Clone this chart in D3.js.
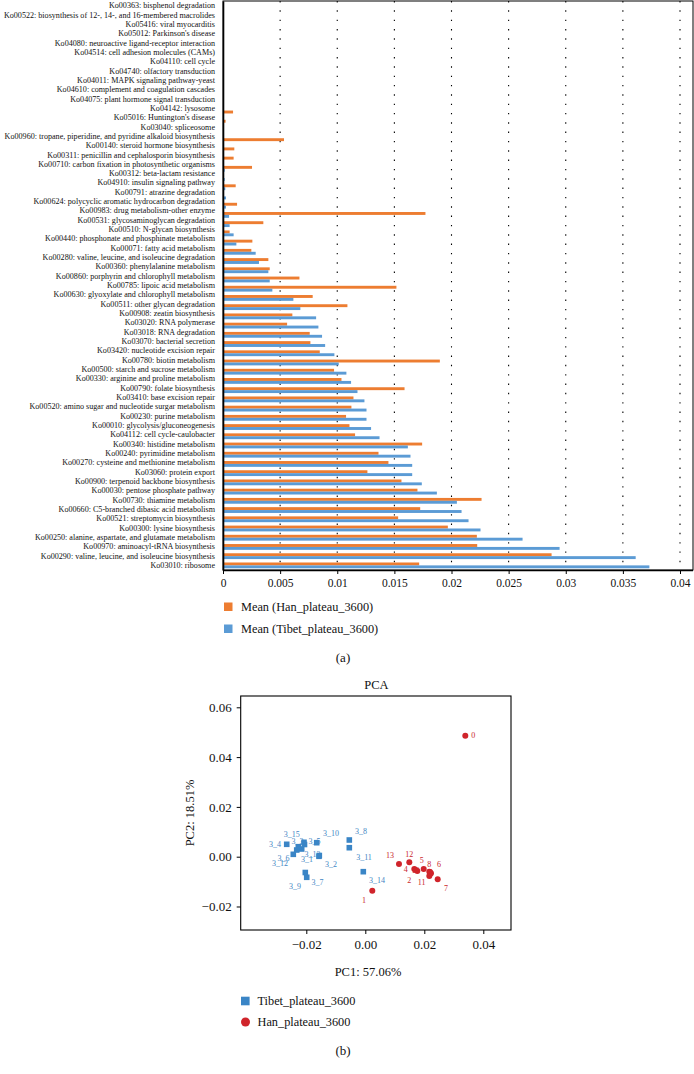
<!DOCTYPE html>
<html>
<head>
<meta charset="utf-8">
<script src="https://cdn.jsdelivr.net/npm/d3@7"></script>
<style>
  html, body { margin: 0; padding: 0; background: #fff; }
  svg { display: block; }
  text { font-family: "Liberation Serif", "Times New Roman", serif; }
</style>
</head>
<body>
<svg id="chart" width="694" height="1074"></svg>
<script>
// ---------------- Data: panel (a) ----------------
const categories = [
  "Ko00363: bisphenol degradation",
  "Ko00522: biosynthesis of 12-, 14-, and 16-membered macrolides",
  "Ko05416: viral myocarditis",
  "Ko05012: Parkinson's disease",
  "Ko04080: neuroactive ligand-receptor interaction",
  "Ko04514: cell adhesion molecules (CAMs)",
  "Ko04110: cell cycle",
  "Ko04740: olfactory transduction",
  "Ko04011: MAPK signaling pathway-yeast",
  "Ko04610: complement and coagulation cascades",
  "Ko04075: plant hormone signal transduction",
  "Ko04142: lysosome",
  "Ko05016: Huntington's disease",
  "Ko03040: spliceosome",
  "Ko00960: tropane, piperidine, and pyridine alkaloid biosynthesis",
  "Ko00140: steroid hormone biosynthesis",
  "Ko00311: penicillin and cephalosporin biosynthesis",
  "Ko00710: carbon fixation in photosynthetic organisms",
  "Ko00312: beta-lactam resistance",
  "Ko04910: insulin signaling pathway",
  "Ko00791: atrazine degradation",
  "Ko00624: polycyclic aromatic hydrocarbon degradation",
  "Ko00983: drug metabolism-other enzyme",
  "Ko00531: glycosaminoglycan degradation",
  "Ko00510: N-glycan biosynthesis",
  "Ko00440: phosphonate and phosphinate metabolism",
  "Ko00071: fatty acid metabolism",
  "Ko00280: valine, leucine, and isoleucine degradation",
  "Ko00360: phenylalanine metabolism",
  "Ko00860: porphyrin and chlorophyll metabolism",
  "Ko00785: lipoic acid metabolism",
  "Ko00630: glyoxylate and chlorophyll metabolism",
  "Ko00511: other glycan degradation",
  "Ko00908: zeatin biosynthesis",
  "Ko03020: RNA polymerase",
  "Ko03018: RNA degradation",
  "Ko03070: bacterial secretion",
  "Ko03420: nucleotide excision repair",
  "Ko00780: biotin metabolism",
  "Ko00500: starch and sucrose metabolism",
  "Ko00330: arginine and proline metabolism",
  "Ko00790: folate biosynthesis",
  "Ko03410: base excision repair",
  "Ko00520: amino sugar and nucleotide surgar metabolism",
  "Ko00230: purine metabolism",
  "Ko00010: glycolysis/gluconeogenesis",
  "Ko04112: cell cycle-caulobacter",
  "Ko00340: histidine metabolism",
  "Ko00240: pyrimidine metabolism",
  "Ko00270: cysteine and methionine metabolism",
  "Ko03060: protein export",
  "Ko00900: terpenoid backbone biosynthesis",
  "Ko00030: pentose phosphate pathway",
  "Ko00730: thiamine metabolism",
  "Ko00660: C5-branched dibasic acid metabolism",
  "Ko00521: streptomycin biosynthesis",
  "Ko00300: lysine biosynthesis",
  "Ko00250: alanine, aspartate, and glutamate metabolism",
  "Ko00970: aminoacyl-tRNA biosynthesis",
  "Ko00290: valine, leucine, and isoleucine biosynthesis",
  "Ko03010: ribosome"
];

const hanValues = [
  0, 0, 0, 0, 0, 0, 0, 0, 0, 0,
  0, 0.00088, 0.00023, 0, 0.00534, 0.00099, 0.00093, 0.00254, 0, 0.00111,
  0, 0.00123, 0.01772, 0.00353, 0.00058, 0.00257, 0.00248, 0.00397, 0.00409, 0.00669,
  0.01518, 0.00785, 0.01089, 0.00607, 0.00561, 0.00759, 0.00765, 0.00847, 0.01898, 0.00972,
  0.01037, 0.01589, 0.01142, 0.01124, 0.01077, 0.01107, 0.01156, 0.01743, 0.01361, 0.01448,
  0.01264, 0.01562, 0.01702, 0.02263, 0.01726, 0.01533, 0.01968, 0.02222, 0.02225, 0.02876,
  0.01717
];

const tibetValues = [
  0, 0, 0, 0, 0, 0, 0, 0, 0, 0,
  0, 0, 0, 0, 0, 0, 0, 0.00015, 0.00015, 0.0002,
  0.00026, 0.00026, 0.00053, 0.00058, 0.00093, 0.00117, 0.00286, 0.00315, 0.00397, 0.00409,
  0.00432, 0.00616, 0.00677, 0.00815, 0.00835, 0.00867, 0.00894, 0.00975, 0.01013, 0.0108,
  0.01121, 0.01177, 0.01238, 0.01256, 0.01256, 0.01296, 0.0137, 0.01618, 0.01641, 0.01656,
  0.01656, 0.0174, 0.01872, 0.02047, 0.02088, 0.02149, 0.02254, 0.02622, 0.02946, 0.03612,
  0.03732
];

const barSeries = ["Mean (Han_plateau_3600)", "Mean (Tibet_plateau_3600)"];
const xTicks = [0, 0.005, 0.01, 0.015, 0.02, 0.025, 0.03, 0.035, 0.04];
const xTickLabels = ["0", "0.005", "0.01", "0.015", "0.02", "0.025", "0.03", "0.035", "0.04"];

// ---------------- Data: panel (b) ----------------
const tibetNames = ["3_1","3_2","3_3","3_4","3_5","3_6","3_7","3_8","3_9","3_10","3_11","3_12","3_13","3_14","3_15"];
const tibetPC1 = [-0.02156, -0.01559, -0.02078, -0.02664, -0.02061, -0.02441, -0.01986, -0.00542, -0.02034, -0.01647, -0.00542, -0.02325, -0.0157, -0.00068, -0.02271];
const tibetPC2 = [0.00309, 0.00048, 0.00578, 0.00498, 0.0049, 0.00096, -0.00827, 0.00671, -0.00635, 0.00562, 0.00361, 0.00269, 0.00016, -0.00602, 0.00402];

const hanNames = ["0","1","2","3","4","5","6","7","8","9","10","11","12","13"];
const hanPC1 = [0.0339, 0.00237, 0.01763, 0.02193, 0.01661, 0.0198, 0.02227, 0.02454, 0.0217, 0.02193, 0.01702, 0.0217, 0.01492, 0.01142];
const hanPC2 = [0.0486, -0.01365, -0.00574, -0.00614, -0.00494, -0.00494, -0.00667, -0.00908, -0.00602, -0.00695, -0.00534, -0.00775, -0.00225, -0.00293];

const pcaGroups = ["Tibet_plateau_3600", "Han_plateau_3600"];
const pcaXTicks = [-0.02, 0, 0.02, 0.04];
const pcaYTicks = [-0.02, 0, 0.02, 0.04, 0.06];
const pcaXTickLabels = ["\u22120.02", "0.00", "0.02", "0.04"];
const pcaYTickLabels = ["\u22120.02", "0.00", "0.02", "0.04", "0.06"];

// ---------------- Layout (label nudges in px) ----------------
const tibetLabelNudge = [[5.3,10],[11.7,8.8],[-6.5,-1.6],[-11.7,-0.3],[10,-2.8],[-9.8,4],[10.8,4.7],[11.7,-9],[-10.3,13.2],[14.3,-9.4],[14.7,9],[-16.7,13.3],[-6.5,-1.6],[13.7,9],[-6.6,-12.7]];
const hanLabelNudge = [[8,0],[-8.3,9.3],[-8,9],[0,0],[-8.6,0.3],[-2,-9],[8,-9.3],[8.3,9],[0,-7],[0,0],[0,0],[-7.6,6.3],[0,-8.3],[-9,-9]];

const ORANGE = "#ED7D31", BLUE = "#5B9BD5";
const SQ_BLUE = "#3A85C6", DOT_RED = "#D0242B";

const svg = d3.select("#chart");

// ================= Panel (a) =================
const A = { left: 223, right: 693, top: 1, bottom: 570 };
const x = d3.scaleLinear().domain([0, 0.04]).range([A.left, 680]);
const yLabel = d3.scaleBand().domain(categories).range([A.top, A.bottom]);
const yBar = d3.scaleBand().domain(categories).range([7.4, A.bottom]);
const barH = 2.9;

const gA = svg.append("g");

// dotted gridlines
gA.selectAll("line.grid").data(xTicks.slice(1)).enter().append("line")
  .attr("x1", d => x(d)).attr("x2", d => x(d))
  .attr("y1", A.top).attr("y2", A.bottom)
  .attr("stroke", "#000").attr("stroke-width", 1.1)
  .attr("stroke-dasharray", "1.4,7.93");

const rows = categories.map((c, i) => ({ c, han: hanValues[i], tibet: tibetValues[i] }));

// Han (orange, upper)
gA.selectAll("rect.han").data(rows).enter().append("rect")
  .attr("x", x(0))
  .attr("y", d => yBar(d.c) + yBar.bandwidth() / 2 - barH)
  .attr("width", d => x(d.han) - x(0))
  .attr("height", barH)
  .attr("fill", ORANGE);

// Tibet (blue, lower)
gA.selectAll("rect.tib").data(rows).enter().append("rect")
  .attr("x", x(0))
  .attr("y", d => yBar(d.c) + yBar.bandwidth() / 2)
  .attr("width", d => x(d.tibet) - x(0))
  .attr("height", barH)
  .attr("fill", BLUE);

// frame
gA.append("rect")
  .attr("x", A.left).attr("y", A.top)
  .attr("width", A.right - A.left).attr("height", A.bottom - A.top)
  .attr("fill", "none").attr("stroke", "#000").attr("stroke-width", 1);

// category axis
const yAxis = gA.append("g").attr("transform", `translate(${A.left},0)`)
  .call(d3.axisLeft(yLabel).tickSize(0).tickPadding(8));
yAxis.select(".domain").attr("stroke", "#000").attr("stroke-width", 1.6);
yAxis.selectAll("text").attr("font-size", "8.1px").attr("fill", "#111")
  .attr("font-family", "'Liberation Serif', serif");

// value axis
const xAxis = gA.append("g").attr("transform", `translate(0,${A.bottom})`)
  .call(d3.axisBottom(x).tickValues(xTicks).tickSize(4).tickSizeOuter(0).tickPadding(5)
    .tickFormat((d, i) => xTickLabels[i]));
xAxis.select(".domain").attr("d", `M${A.left},0.5H${A.right}`).attr("stroke", "#000").attr("stroke-width", 1.6);
xAxis.selectAll("line").attr("stroke", "#000");
xAxis.selectAll("text").attr("font-size", "11.5px").attr("fill", "#111")
  .attr("font-family", "'Liberation Serif', serif");

// legend (a)
const legA = gA.append("g");
barSeries.forEach((s, i) => {
  const yy = 607 + i * 22;
  legA.append("rect").attr("x", 224).attr("y", yy - 4.5).attr("width", 8.5).attr("height", 8.5)
    .attr("fill", i === 0 ? ORANGE : BLUE);
  legA.append("text").attr("x", 241).attr("y", yy).attr("dy", "0.35em")
    .attr("font-size", "12.3px").attr("fill", "#111").text(s);
});

gA.append("text").attr("x", 343).attr("y", 657).attr("dy", "0.35em")
  .attr("text-anchor", "middle").attr("font-size", "13px").attr("fill", "#111").text("(a)");

// ================= Panel (b) =================
const B = { left: 240.7, right: 511, top: 696, bottom: 930 };
const px = d3.scaleLinear().domain([-0.04224, 0.04939]).range([B.left, B.right]);
const py = d3.scaleLinear().domain([-0.02944, 0.06454]).range([B.bottom, B.top]);

const gB = svg.append("g");

gB.append("text").attr("x", 376.5).attr("y", 685).attr("dy", "0.35em")
  .attr("text-anchor", "middle").attr("font-size", "12.5px").attr("fill", "#111").text("PCA");

gB.append("rect").attr("x", B.left).attr("y", B.top)
  .attr("width", B.right - B.left).attr("height", B.bottom - B.top)
  .attr("fill", "none").attr("stroke", "#000").attr("stroke-width", 1.1);

const pxAxis = gB.append("g").attr("transform", `translate(0,${B.bottom})`)
  .call(d3.axisBottom(px).tickValues(pcaXTicks).tickSize(4).tickSizeOuter(0).tickPadding(6)
    .tickFormat((d, i) => pcaXTickLabels[i]));
pxAxis.select(".domain").remove();
pxAxis.selectAll("line").attr("stroke", "#000");
pxAxis.selectAll("text").attr("font-size", "13px").attr("fill", "#111")
  .attr("font-family", "'Liberation Serif', serif");

const pyAxis = gB.append("g").attr("transform", `translate(${B.left},0)`)
  .call(d3.axisLeft(py).tickValues(pcaYTicks).tickSize(4).tickSizeOuter(0).tickPadding(5)
    .tickFormat((d, i) => pcaYTickLabels[i]));
pyAxis.select(".domain").remove();
pyAxis.selectAll("line").attr("stroke", "#000");
pyAxis.selectAll("text").attr("font-size", "13px").attr("fill", "#111")
  .attr("font-family", "'Liberation Serif', serif");

gB.append("text").attr("x", 368).attr("y", 972).attr("dy", "0.35em")
  .attr("text-anchor", "middle").attr("font-size", "12.5px").attr("fill", "#111").text("PC1: 57.06%");
gB.append("text").attr("transform", "translate(190,813) rotate(-90)").attr("dy", "0.35em")
  .attr("text-anchor", "middle").attr("font-size", "12.5px").attr("fill", "#111").text("PC2: 18.51%");

const tib = tibetNames.map((n, i) => ({ n, x: tibetPC1[i], y: tibetPC2[i], o: tibetLabelNudge[i] }));
const han = hanNames.map((n, i) => ({ n, x: hanPC1[i], y: hanPC2[i], o: hanLabelNudge[i] }));

// labels first (markers drawn on top, as in the reference)
gB.selectAll("text.tl").data(tib).enter().append("text")
  .attr("x", d => px(d.x) + d.o[0]).attr("y", d => py(d.y) + d.o[1]).attr("dy", "0.35em")
  .attr("text-anchor", "middle").attr("font-size", "8px").attr("fill", "#3F86C4").text(d => d.n);
gB.selectAll("text.hl").data(han).enter().append("text")
  .attr("x", d => px(d.x) + d.o[0]).attr("y", d => py(d.y) + d.o[1]).attr("dy", "0.35em")
  .attr("text-anchor", "middle").attr("font-size", "8px").attr("fill", "#C9272D").text(d => d.n);

const sq = 5.6;
gB.selectAll("rect.pt").data(tib).enter().append("rect")
  .attr("x", d => px(d.x) - sq / 2).attr("y", d => py(d.y) - sq / 2)
  .attr("width", sq).attr("height", sq).attr("fill", SQ_BLUE);
gB.selectAll("circle.pt").data(han).enter().append("circle")
  .attr("cx", d => px(d.x)).attr("cy", d => py(d.y)).attr("r", 3)
  .attr("fill", DOT_RED);

// legend (b)
pcaGroups.forEach((g, i) => {
  const yy = 1001 + i * 21;
  if (i === 0) {
    gB.append("rect").attr("x", 241).attr("y", yy - 4.3).attr("width", 8.6).attr("height", 8.6).attr("fill", SQ_BLUE);
  } else {
    gB.append("circle").attr("cx", 245.5).attr("cy", yy).attr("r", 4.5).attr("fill", DOT_RED);
  }
  gB.append("text").attr("x", 257.5).attr("y", yy).attr("dy", "0.35em")
    .attr("font-size", "12.3px").attr("fill", "#111").text(g);
});

gB.append("text").attr("x", 343).attr("y", 1050).attr("dy", "0.35em")
  .attr("text-anchor", "middle").attr("font-size", "13px").attr("fill", "#111").text("(b)");
</script>
</body>
</html>
